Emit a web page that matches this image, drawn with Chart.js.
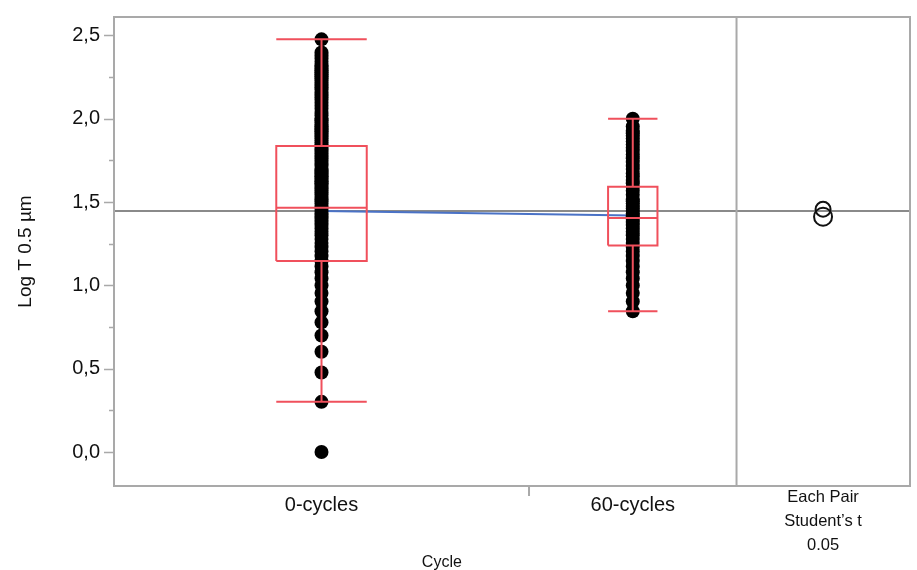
<!DOCTYPE html>
<html>
<head>
<meta charset="utf-8">
<script src="https://cdn.jsdelivr.net/npm/chart.js@4/dist/chart.umd.min.js"></script>
<style>
html, body { margin: 0; padding: 0; background: #fff; }
</style>
</head>
<body>
<canvas id="chart" width="917" height="570"></canvas>
<script>
// Data
const categories = ['0-cycles', '60-cycles'];
const categoryX = [1, 2.5];          // group centres; JMP widens groups by count
const groupSplit = 2;                // tick between the two groups
const panelSplit = 3;                // start of the comparison-circle panel
const circleX = 3.417;

const cycles0 = [0, 0.301, 0.477, 0.602, 0.699, 0.778, 0.845, 0.903, 0.954, 1.0, 1.041, 1.079, 1.114, 1.146, 1.176,
    1.204, 1.23, 1.255, 1.279, 1.301, 1.322, 1.342, 1.362, 1.38, 1.398, 1.415, 1.431, 1.447, 1.462, 1.477, 1.491,
    1.505, 1.519, 1.531, 1.544, 1.556, 1.568, 1.58, 1.591, 1.602, 1.613, 1.623, 1.633, 1.643, 1.653, 1.663, 1.672,
    1.681, 1.69, 1.699, 1.716, 1.732, 1.748, 1.763, 1.778, 1.792, 1.806, 1.82, 1.833, 1.845, 1.857, 1.869, 1.881,
    1.892, 1.903, 1.914, 1.924, 1.934, 1.944, 1.954, 1.964, 1.978, 1.991, 2.0, 2.021, 2.041, 2.061, 2.079, 2.097,
    2.114, 2.13, 2.146, 2.161, 2.176, 2.19, 2.204, 2.217, 2.23, 2.243, 2.255, 2.267, 2.279, 2.29, 2.301, 2.312,
    2.322, 2.342, 2.362, 2.38, 2.398, 2.477];
const cycles60 = [0.845, 0.903, 0.954, 1.0, 1.041, 1.079, 1.114, 1.146, 1.176, 1.204, 1.23, 1.255, 1.279, 1.301,
    1.322, 1.342, 1.362, 1.38, 1.398, 1.415, 1.431, 1.447, 1.462, 1.477, 1.491, 1.505, 1.519, 1.544, 1.568, 1.591,
    1.613, 1.633, 1.653, 1.672, 1.699, 1.716, 1.74, 1.763, 1.785, 1.806, 1.826, 1.845, 1.863, 1.881, 1.898, 1.914,
    1.929, 1.954, 2.0];

const whiskerLow = [0.301, 0.845];
const q1 = [1.147, 1.240];
const median = [1.466, 1.405];
const q3 = [1.836, 1.592];
const whiskerHigh = [2.477, 2.0];
const groupMeans = [1.446, 1.420];
const grandMean = 1.447;
const circleCentres = [1.457, 1.412];

const yTicks = [0, 0.5, 1, 1.5, 2, 2.5];
const compLabel = ['Each Pair', 'Student\u2019s t', '0.05'];

// Styles
const boxHalfWidth = [0.218, 0.119];
const circleRadius = [7.5, 9];
const FONT = '"Liberation Sans", Arial, sans-serif';
const frameColor = '#a9a9a9';
const red = '#f0505c';

// Box plot outlines as line paths, segments split with null points
function boxPath(i) {
    const x = categoryX[i], h = boxHalfWidth[i];
    const gap = { x: x, y: null };
    return [
        { x: x - h, y: q1[i] }, { x: x + h, y: q1[i] }, { x: x + h, y: q3[i] }, { x: x - h, y: q3[i] }, { x: x - h, y: q1[i] }, gap,
        { x: x - h, y: median[i] }, { x: x + h, y: median[i] }, gap,
        { x: x, y: q3[i] }, { x: x, y: whiskerHigh[i] }, gap,
        { x: x - h, y: whiskerHigh[i] }, { x: x + h, y: whiskerHigh[i] }, gap,
        { x: x, y: q1[i] }, { x: x, y: whiskerLow[i] }, gap,
        { x: x - h, y: whiskerLow[i] }, { x: x + h, y: whiskerLow[i] }
    ];
}

const lineSet = (data, color, order) => ({
    data, showLine: true, borderColor: color, borderWidth: 2, pointRadius: 0,
    spanGaps: false, fill: false, tension: 0, order
});

const pointSet = (values, i) => ({
    data: values.map(y => ({ x: categoryX[i], y })),
    showLine: false, pointRadius: 7, pointBackgroundColor: '#000', pointBorderWidth: 0, order: 2
});

// Frame, tick marks and x labels
const framePlugin = {
    id: 'frame',
    afterDraw(chart) {
        const { ctx, chartArea: a, scales: { x, y } } = chart;
        ctx.save();
        ctx.strokeStyle = frameColor;
        ctx.lineWidth = 2;
        ctx.strokeRect(a.left, a.top, a.right - a.left, a.bottom - a.top);
        ctx.beginPath();
        const px = x.getPixelForValue(panelSplit);
        ctx.moveTo(px, a.top); ctx.lineTo(px, a.bottom);
        const gx = x.getPixelForValue(groupSplit);
        ctx.moveTo(gx, a.bottom + 1); ctx.lineTo(gx, a.bottom + 10);
        ctx.stroke();

        ctx.lineWidth = 1.5;
        ctx.beginPath();
        for (let v = 0; v <= 2.5001; v += 0.25) {
            const py = Math.round(y.getPixelForValue(v)) + 0.5;
            const major = Math.abs(v / 0.5 - Math.round(v / 0.5)) < 1e-6;
            ctx.moveTo(a.left - (major ? 10 : 5), py);
            ctx.lineTo(a.left, py);
        }
        ctx.stroke();

        ctx.fillStyle = '#111';
        ctx.textAlign = 'center';
        ctx.textBaseline = 'middle';
        ctx.font = '20px ' + FONT;
        categories.forEach((c, i) => ctx.fillText(c, x.getPixelForValue(categoryX[i]), a.bottom + 19));
        ctx.font = '16.5px ' + FONT;
        compLabel.forEach((t, i) => ctx.fillText(t, x.getPixelForValue(circleX), a.bottom + 11 + i * 24));
        ctx.font = '16px ' + FONT;
        ctx.fillText('Cycle', x.getPixelForValue(1.58), a.bottom + 77);
        ctx.restore();
    }
};

new Chart(document.getElementById('chart'), {
    type: 'scatter',
    data: {
        datasets: [
            {
                data: circleCentres.map(y => ({ x: circleX, y })),
                showLine: false, pointRadius: circleRadius, pointBackgroundColor: 'rgba(0,0,0,0)',
                pointBorderColor: '#111', pointBorderWidth: 2, order: 0
            },
            lineSet(boxPath(0), red, 1),
            lineSet(boxPath(1), red, 1),
            pointSet(cycles0, 0),
            pointSet(cycles60, 1),
            lineSet(groupMeans.map((m, i) => ({ x: categoryX[i], y: m })), '#4a72c6', 3),
            lineSet([{ x: 0, y: grandMean }, { x: 3.836, y: grandMean }], '#8a8a8a', 4)
        ]
    },
    options: {
        responsive: false,
        animation: false,
        events: [],
        layout: { autoPadding: false, padding: { top: 13, right: 7, left: 0, bottom: 0 } },
        plugins: { legend: { display: false }, tooltip: { enabled: false } },
        scales: {
            x: {
                type: 'linear', min: 0, max: 3.836,
                ticks: { display: false },
                grid: { display: false },
                border: { display: false },
                afterFit(scale) { scale.height = 84; }
            },
            y: {
                type: 'linear', min: -0.204, max: 2.611,
                afterBuildTicks(scale) { scale.ticks = yTicks.map(v => ({ value: v })); },
                ticks: {
                    padding: 5,
                    color: '#111',
                    font: { family: FONT, size: 20 },
                    callback: v => v.toFixed(1).replace('.', ',')
                },
                grid: { display: true, drawOnChartArea: false, drawTicks: true, tickLength: 9, color: 'rgba(0,0,0,0)' },
                border: { display: false },
                title: {
                    display: true, text: 'Log T 0.5 \u00b5m', color: '#111',
                    font: { family: FONT, size: 19 }, padding: { top: 14, bottom: 0 }
                },
                afterFit(scale) { scale.width = 114; }
            }
        }
    },
    plugins: [framePlugin]
});
</script>
</body>
</html>
